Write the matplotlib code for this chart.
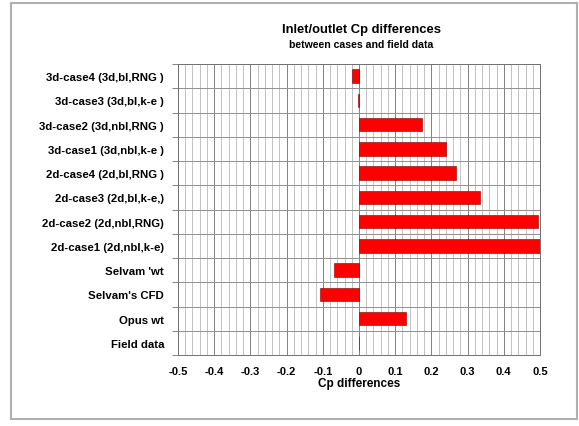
import numpy as np
import matplotlib
matplotlib.use("Agg")
import matplotlib.pyplot as plt
from matplotlib.patches import Rectangle
from matplotlib.ticker import MultipleLocator

plt.rcParams['font.family'] = ['Liberation Sans', 'DejaVu Sans']

# categories, top to bottom
cases = ['3d-case4 (3d,bl,RNG )', '3d-case3 (3d,bl,k-e )',
         '3d-case2 (3d,nbl,RNG )', '3d-case1 (3d,nbl,k-e )',
         '2d-case4 (2d,bl,RNG )', '2d-case3 (2d,bl,k-e,)',
         '2d-case2 (2d,nbl,RNG)', '2d-case1 (2d,nbl,k-e)',
         "Selvam 'wt", "Selvam's CFD", 'Opus wt', 'Field data']
cp_diff = [-0.02, -0.003, 0.175, 0.239, 0.268, 0.333,
           0.494, 0.52, -0.068, -0.107, 0.13, 0.0]
xticks = [-0.5, -0.4, -0.3, -0.2, -0.1, 0, 0.1, 0.2, 0.3, 0.4, 0.5]
xtick_labels = ['-0.5', '-0.4', '-0.3', '-0.2', '-0.1', '0',
                '0.1', '0.2', '0.3', '0.4', '0.5']

fig = plt.figure(figsize=(5.79, 4.27), dpi=100)
fig.patches.append(Rectangle((11 / 579, 1 - 420 / 427), 566 / 579, 416 / 427,
                             transform=fig.transFigure, fill=False,
                             edgecolor='#b0b0b0', linewidth=1.5))

ax = fig.add_axes([178 / 579, 1 - 356 / 427, 362 / 579, 291 / 427])
y = np.arange(len(cases))
ax.barh(y, cp_diff, height=0.55, color='#ff0000', edgecolor='#800000',
        linewidth=0.4, zorder=3)

ax.set_xlim(-0.5, 0.5)
ax.set_ylim(len(cases) - 0.5, -0.5)
ax.set_xticks(xticks)
ax.set_xticklabels(xtick_labels, fontsize=8, fontweight='bold')
ax.xaxis.set_minor_locator(MultipleLocator(0.02))
ax.set_yticks(y)
ax.set_yticklabels(cases, fontsize=8.2, fontweight='bold')
ax.set_yticks(np.arange(len(cases) + 1) - 0.5, minor=True)
ax.tick_params(axis='y', which='major', length=0, pad=10)
ax.tick_params(axis='y', which='minor', length=4, color='#707070', width=0.6)
ax.tick_params(axis='x', which='both', length=0, pad=8)

ax.grid(True, which='minor', axis='x', color='#b8b8b8', linewidth=0.6, zorder=0)
ax.grid(True, which='major', axis='x', color='#808080', linewidth=0.7, zorder=0)
ax.grid(True, which='minor', axis='y', color='#909090', linewidth=0.7, zorder=0)
ax.grid(False, which='major', axis='y')
for s in ax.spines.values():
    s.set_color('#707070')
    s.set_linewidth(0.7)

ax.set_xlabel('Cp differences', fontsize=8.5, fontweight='bold', labelpad=1)

fig.text(362 / 579, 1 - 30 / 427, 'Inlet/outlet Cp differences', ha='center',
         va='center', fontsize=9.4, fontweight='bold')
fig.text(361 / 579, 1 - 45 / 427, 'between cases and field data', ha='center',
         va='center', fontsize=7.6, fontweight='bold')

fig.savefig('out.png', dpi=100)
